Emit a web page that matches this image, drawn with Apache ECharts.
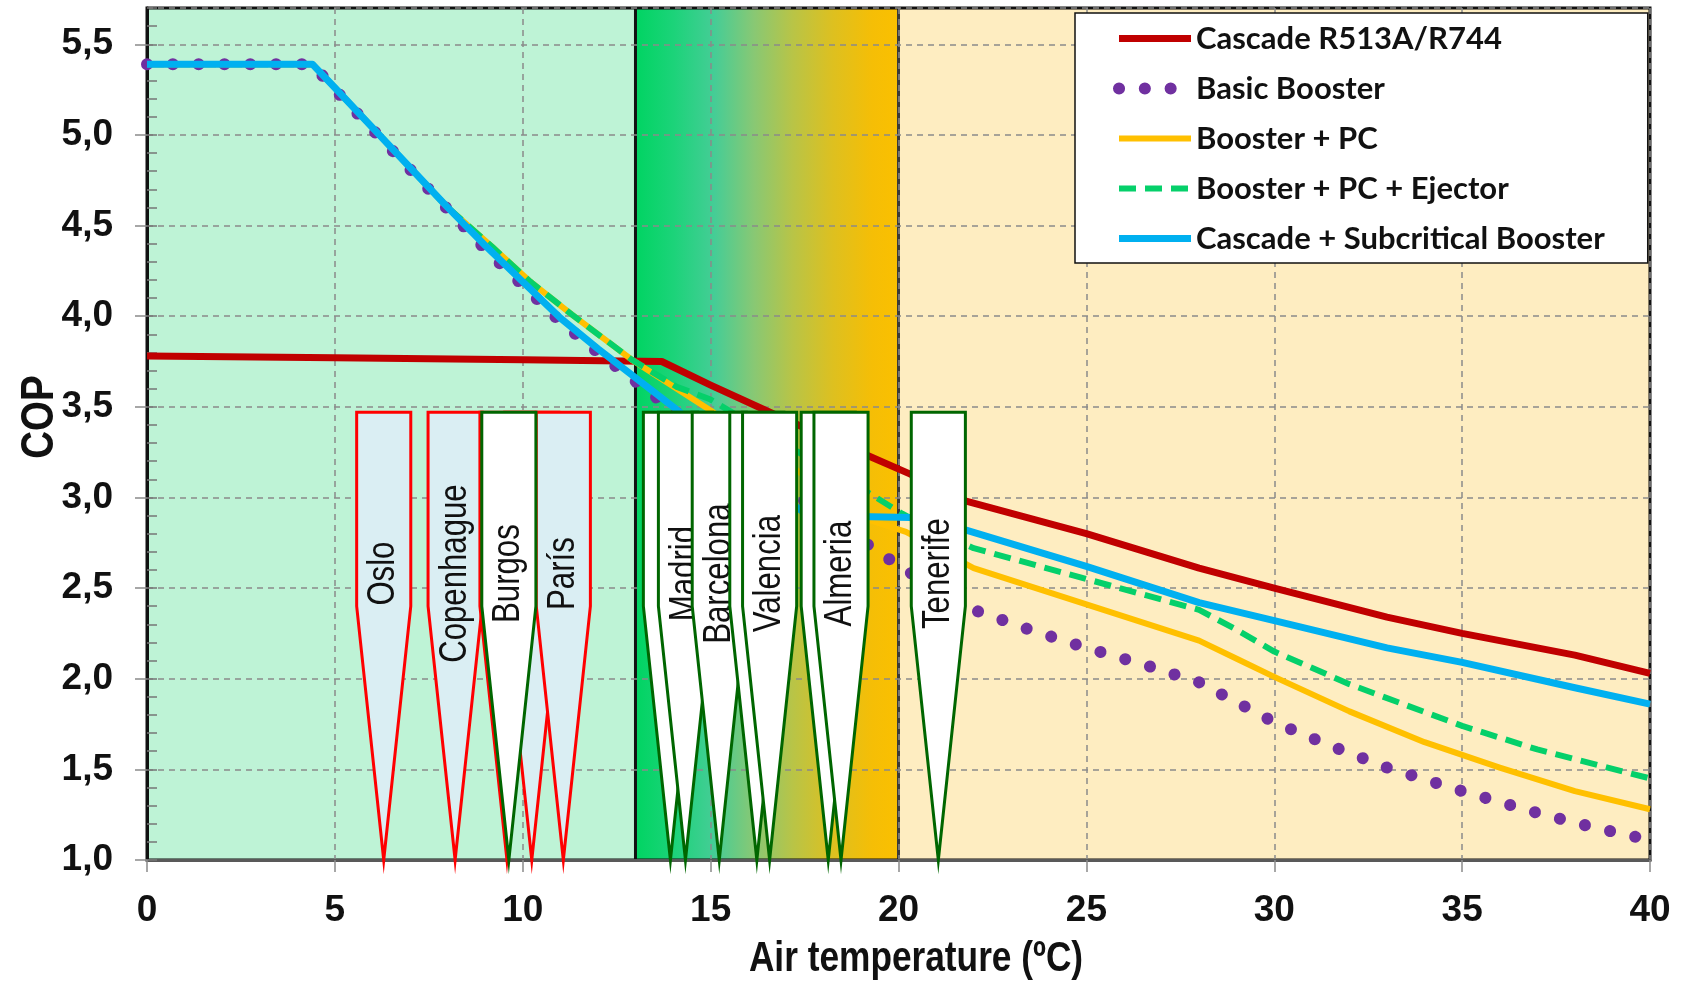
<!DOCTYPE html>
<html>
<head>
<meta charset="utf-8">
<title>COP vs air temperature</title>
<script src="https://cdn.jsdelivr.net/npm/echarts@6/dist/echarts.min.js"></script>
<style>
  html, body { margin: 0; padding: 0; background: #fff; }
  #chart { width: 1682px; height: 986px; }
</style>
</head>
<body>
<div id="chart"></div>
<script>
// ---------- data ----------
const cascadeT   = [0, 5, 10, 13.7, 15, 17, 19.3, 20.3, 21.8, 25, 28, 30, 33, 35, 38, 40];
const cascadeCop = [3.78, 3.77, 3.76, 3.75, 3.62, 3.43, 3.22, 3.13, 2.98, 2.80, 2.61, 2.50, 2.34, 2.25, 2.13, 2.03];

const basicT   = [0, 4.4, 5, 6, 7, 8, 9, 10, 11, 12, 13, 14, 16, 18, 19.6, 20.2, 21, 22, 23.5, 25, 26.5, 28, 29, 30, 31.5, 33, 35, 37, 38.5, 40];
const basicCop = [5.39, 5.39, 5.25, 5.03, 4.81, 4.59, 4.37, 4.17, 3.97, 3.80, 3.64, 3.48, 3.19, 2.91, 2.68, 2.60, 2.49, 2.38, 2.27, 2.17, 2.08, 1.98, 1.87, 1.76, 1.63, 1.51, 1.38, 1.26, 1.18, 1.11];

const pcT   = [0, 4.4, 5, 6, 7, 8, 9.2, 10.2, 11.3, 12.9, 14.1, 15, 17, 19.3, 20.2, 22, 25, 28, 29, 30, 32, 34, 36, 38, 40];
const pcCop = [5.39, 5.39, 5.26, 5.04, 4.82, 4.60, 4.38, 4.19, 4.01, 3.76, 3.60, 3.48, 3.19, 2.87, 2.81, 2.61, 2.41, 2.21, 2.11, 2.01, 1.82, 1.65, 1.51, 1.38, 1.28];

const ejectorT   = [0, 4.4, 5, 6, 7, 8, 9.2, 10.2, 11.3, 12.9, 14.1, 15, 17, 19.25, 20.1, 21, 22, 25, 28, 29, 30, 32, 35, 37, 40];
const ejectorCop = [5.39, 5.39, 5.26, 5.04, 4.82, 4.60, 4.38, 4.19, 4.01, 3.76, 3.61, 3.54, 3.29, 3.02, 2.91, 2.81, 2.72, 2.55, 2.38, 2.27, 2.15, 1.97, 1.74, 1.61, 1.45];

const subcritT   = [0, 4.4, 5, 6, 7, 8, 9, 10, 11, 12, 13, 14, 15, 16, 17, 17.6, 20.3, 21.8, 25, 28, 30, 33, 35, 38, 40];
const subcritCop = [5.39, 5.39, 5.26, 5.04, 4.82, 4.60, 4.39, 4.19, 3.99, 3.82, 3.66, 3.50, 3.33, 3.16, 2.99, 2.90, 2.89, 2.82, 2.62, 2.42, 2.32, 2.17, 2.09, 1.95, 1.86];

const seriesNames = ['Cascade R513A/R744', 'Basic Booster', 'Booster + PC', 'Booster + PC + Ejector', 'Cascade + Subcritical Booster'];

// climate zones along the temperature axis
const zoneStart = [0, 13, 20];
const zoneEnd   = [13, 20, 40];
const zoneEdges = [13, 20];

// city markers: design temperature where the pointer ends
const cityName = ['Oslo', 'Copenhague', '', '', 'París', 'Burgos', '', 'Madrid', 'Barcelona', '', 'Valencia', '', 'Almeria', 'Tenerife'];
const cityTemp = [6.3, 8.2, 9.58, 10.24, 11.08, 9.63, 13.93, 14.33, 15.23, 16.23, 16.57, 18.13, 18.47, 21.06];
const cityGroup = ['eu', 'eu', 'eu', 'eu', 'eu', 'es', 'es', 'es', 'es', 'es', 'es', 'es', 'es', 'es'];

const xTicks = { min: 0, max: 40, step: 5 };
const yTicks = { min: 1, max: 5.7, step: 0.5, minor: 0.1 };

// ---------- styles / geometry ----------
const SANS = "'Liberation Sans', Arial, sans-serif";
const NARROW = 0.82; // horizontal squeeze to mimic Arial Narrow
const GRID_GREY = '#8a8a8a';
const marker = { half: 0.72, top: 3.47, shoulder: 2.40, tip: 1.0, label: 2.58 };
const zoneFill = [
    '#bef3d6',
    new echarts.graphic.LinearGradient(0, 0, 1, 0, [
        { offset: 0, color: '#00d462' },
        { offset: 0.15, color: '#1dd37a' },
        { offset: 0.3, color: '#45cd96' },
        { offset: 0.45, color: '#88c874' },
        { offset: 0.6, color: '#b9c446' },
        { offset: 0.75, color: '#ddc020' },
        { offset: 0.9, color: '#f5be06' },
        { offset: 1, color: '#fbc000' }
    ]),
    '#feedc1'
];
const lineStyles = [
    { color: '#c00000', width: 7 },
    { color: '#7030a0', width: 12, type: [0.1, 25.7], cap: 'round' },
    { color: '#ffc000', width: 6 },
    { color: '#05d06a', width: 6, type: [17, 9] },
    { color: '#00b0f0', width: 7 }
];
const cityStyle = {
    eu: { fill: '#daeef3', stroke: '#ff0000' },
    es: { fill: '#ffffff', stroke: '#006600' }
};

function zip(xs, ys) {
    return xs.map((x, i) => [x, ys[i]]);
}
const comma = v => v.toFixed(1).replace('.', ',');

const chart = echarts.init(document.getElementById('chart'));

const curves = [
    zip(cascadeT, cascadeCop),
    zip(basicT, basicCop),
    zip(pcT, pcCop),
    zip(ejectorT, ejectorCop),
    zip(subcritT, subcritCop)
];

const option = {
    animation: false,
    backgroundColor: '#ffffff',
    grid: {
        left: 147, top: 8, right: 32, bottom: 126,
        outerBoundsMode: 'none',
        show: true, borderColor: '#111', borderWidth: 3
    },
    legend: {
        orient: 'vertical',
        left: 1075, top: 13,
        padding: [10, 43, 9, 38],
        itemGap: 19,
        itemWidth: 72,
        itemHeight: 14,
        backgroundColor: '#ffffff',
        borderColor: '#111',
        borderWidth: 1.5,
        selectedMode: false,
        itemStyle: { opacity: 0 },
        textStyle: { fontFamily: 'Lato', fontWeight: 'bold', fontSize: 31, color: '#111' },
        data: seriesNames.map((n, i) => ({ name: n, lineStyle: { width: lineStyles[i].width } }))
    },
    graphic: [{
        type: 'text',
        x: 40, y: 417,
        rotation: Math.PI / 2,
        scaleX: NARROW,
        style: { text: 'COP', fontFamily: SANS, fontWeight: 'bold', fontSize: 47, fill: '#111', align: 'center', verticalAlign: 'middle' }
    }, {
        type: 'text',
        x: 916, y: 959,
        scaleX: NARROW,
        style: { text: 'Air temperature (ºC)', fontFamily: SANS, fontWeight: 'bold', fontSize: 43, fill: '#111', align: 'center', verticalAlign: 'middle' }
    }],
    xAxis: {
        type: 'value',
        min: xTicks.min, max: xTicks.max, interval: xTicks.step,
        axisLine: { lineStyle: { color: '#595959', width: 3 } },
        axisTick: { length: 12, lineStyle: { color: GRID_GREY, width: 1.5 } },
        axisLabel: { margin: 32, fontFamily: SANS, fontWeight: 'bold', fontSize: 37, color: '#111' },
        splitLine: { lineStyle: { color: GRID_GREY, width: 1.5, type: [6, 5] } }
    },
    yAxis: [{
        type: 'value',
        min: yTicks.min, max: yTicks.max, interval: yTicks.step,
        axisLine: { show: true, lineStyle: { color: '#111', width: 3 } },
        axisTick: { show: true, length: 12, lineStyle: { color: GRID_GREY, width: 1.5 } },
        axisLabel: { margin: 34, showMaxLabel: false, formatter: comma, fontFamily: SANS, fontWeight: 'bold', fontSize: 37, color: '#111' },
        splitLine: { lineStyle: { color: GRID_GREY, width: 1.5, type: [6, 5] } }
    }, {
        // minor ticks (0.1) on the inside of the COP axis
        type: 'value',
        position: 'left',
        min: yTicks.min, max: yTicks.max, interval: yTicks.minor,
        axisLine: { show: false },
        axisTick: { show: true, inside: true, length: 10, lineStyle: { color: '#777', width: 1.5 } },
        axisLabel: { show: false },
        splitLine: { show: false }
    }],
    series: [
        {
            // background zones (cold / transition / warm)
            type: 'custom',
            z: -10,
            silent: true,
            data: zoneStart.map((s, i) => [s, zoneEnd[i]]),
            encode: { x: [0, 1] },
            renderItem: (params, api) => {
                const cs = params.coordSys;
                const x0 = api.coord([api.value(0), yTicks.min])[0];
                const x1 = api.coord([api.value(1), yTicks.min])[0];
                return {
                    type: 'rect',
                    shape: { x: x0, y: cs.y, width: x1 - x0, height: cs.height },
                    style: { fill: zoneFill[params.dataIndex] }
                };
            }
        },
        {
            // zone boundaries
            type: 'custom',
            z: -9,
            silent: true,
            data: zoneEdges.map(e => [e]),
            encode: { x: 0 },
            renderItem: (params, api) => {
                const cs = params.coordSys;
                const x = api.coord([api.value(0), yTicks.min])[0];
                return {
                    type: 'line',
                    shape: { x1: x, y1: cs.y, x2: x, y2: cs.y + cs.height },
                    style: { stroke: params.dataIndex === 0 ? '#111' : '#3a3a3a', lineWidth: 3 }
                };
            }
        },
        ...curves.map((d, i) => ({
            name: seriesNames[i],
            type: 'line',
            data: d,
            symbol: 'none',
            z: 2 + i * 0.1,
            itemStyle: { color: lineStyles[i].color },
            lineStyle: Object.assign({ join: 'round' }, lineStyles[i])
        })),
        {
            // city pointers
            type: 'custom',
            z: 5,
            silent: true,
            data: cityTemp.map(t => [t, marker.tip]),
            encode: { x: 0, y: 1 },
            clip: false,
            renderItem: (params, api) => {
                const i = params.dataIndex;
                const t = api.value(0);
                const st = cityStyle[cityGroup[i]];
                const pts = [
                    api.coord([t - marker.half, marker.top]),
                    api.coord([t + marker.half, marker.top]),
                    api.coord([t + marker.half, marker.shoulder]),
                    api.coord([t, api.value(1)]),
                    api.coord([t - marker.half, marker.shoulder])
                ];
                const c = api.coord([t, marker.label]);
                return {
                    type: 'group',
                    children: [{
                        type: 'polygon',
                        shape: { points: pts },
                        style: { fill: st.fill, stroke: st.stroke, lineWidth: 3, lineJoin: 'miter' }
                    }, {
                        type: 'text',
                        x: c[0], y: c[1],
                        rotation: Math.PI / 2,
                        scaleX: NARROW,
                        style: {
                            text: cityName[i],
                            align: 'center', verticalAlign: 'middle',
                            fontFamily: SANS, fontSize: 38, fill: '#111'
                        }
                    }]
                };
            }
        }
    ]
};

chart.setOption(option);
</script>
</body>
</html>
